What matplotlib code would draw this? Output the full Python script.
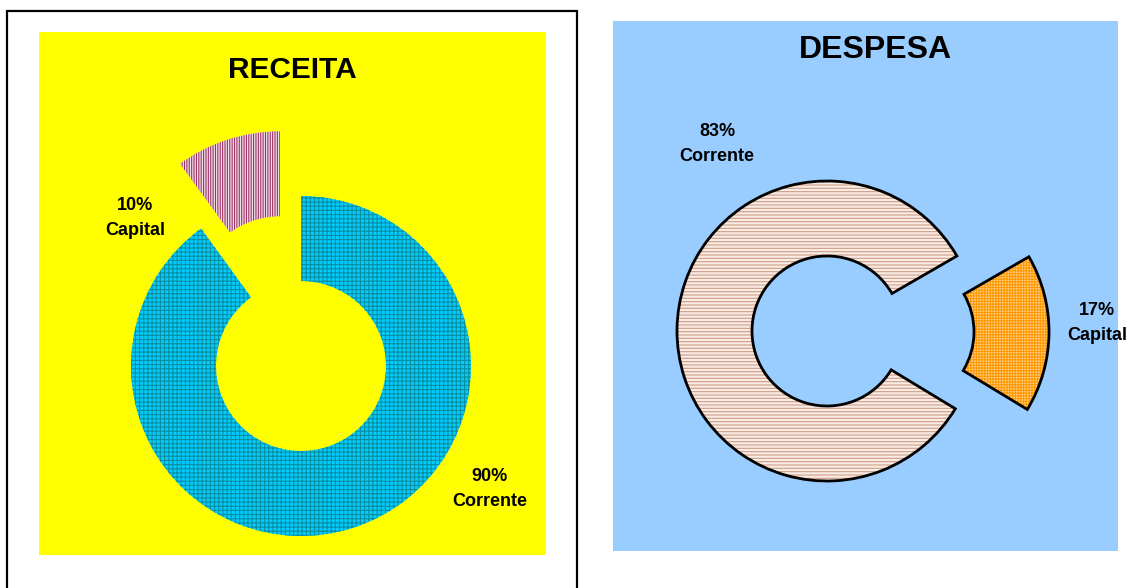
import matplotlib.pyplot as plt
from matplotlib.patches import Rectangle

# data
categorias = ['Corrente', 'Capital']
receita = [90, 10]
despesa = [83, 17]

plt.rcParams['font.family'] = ['Liberation Sans', 'DejaVu Sans']
plt.rcParams['hatch.linewidth'] = 0.8

W, H = 1130, 588
fig = plt.figure(figsize=(W / 100, H / 100), dpi=100)
fig.patch.set_facecolor('white')

# moldura do painel da esquerda
fig.add_artist(Rectangle((7 / W, -0.05), 570 / W, (H - 11) / H + 0.05,
                         transform=fig.transFigure, facecolor='white',
                         edgecolor='black', linewidth=1.6, zorder=0))


def painel(px0, py0, px1, py1, cor):
    # eixo em coordenadas de pixel (y para cima)
    ax = fig.add_axes([px0 / W, (H - py1) / H, (px1 - px0) / W, (py1 - py0) / H])
    ax.set_facecolor(cor)
    ax.set_xticks([])
    ax.set_yticks([])
    for s in ax.spines.values():
        s.set_visible(False)
    return ax


# ---------------- RECEITA ----------------
ax1 = painel(39, 32, 546, 555, '#ffff00')
c1, r1 = (301, H - 366), 170
w1 = ax1.pie(receita, explode=[0, 0.40 * r1], startangle=90, counterclock=False,
             radius=r1, center=c1, frame=True,
             colors=['#00ccff', '#f4e0ea'],
             wedgeprops=dict(width=r1 * 0.5, linewidth=0))[0]
w1[0].set_hatch('++++')
w1[0].set_edgecolor('#0a8fa0')
w1[1].set_hatch('|||||||')
w1[1].set_edgecolor('#993366')
ax1.set_xlim(39, 546)
ax1.set_ylim(H - 555, H - 32)
ax1.set_aspect('auto')
ax1.text(292, H - 70, 'RECEITA', ha='center', va='center', fontsize=21.5, fontweight='bold')
ax1.text(135, H - 218, f'{receita[1]}%\n{categorias[1]}', ha='center', va='center',
         fontsize=13, fontweight='bold', linespacing=1.55)
ax1.text(490, H - 489, f'{receita[0]}%\n{categorias[0]}', ha='center', va='center',
         fontsize=13, fontweight='bold', linespacing=1.55)

# ---------------- DESPESA ----------------
ax2 = painel(613, 21, 1118, 551, '#99ccff')
c2, r2 = (827, H - 331), 150
w2 = ax2.pie(despesa, explode=[0, 0.48 * r2], startangle=30, counterclock=True,
             radius=r2, center=c2, frame=True,
             colors=['#f9ece6', '#ffd090'],
             wedgeprops=dict(width=r2 * 0.5, linewidth=0))[0]
w2[0].set_hatch('-----')
w2[0].set_edgecolor('#cf9d85')
w2[1].set_hatch('++++++')
w2[1].set_edgecolor('#ff9900')
# contorno preto
ax2.pie(despesa, explode=[0, 0.48 * r2], startangle=30, counterclock=True,
        radius=r2, center=c2, frame=True,
        wedgeprops=dict(width=r2 * 0.5, fill=False, edgecolor='black', linewidth=2))
ax2.set_xlim(613, 1118)
ax2.set_ylim(H - 551, H - 21)
ax2.set_aspect('auto')
ax2.text(875, H - 50, 'DESPESA', ha='center', va='center', fontsize=23, fontweight='bold')
ax2.text(717, H - 144, f'{despesa[0]}%\n{categorias[0]}', ha='center', va='center',
         fontsize=13, fontweight='bold', linespacing=1.55)
ax2.text(1097, H - 323, f'{despesa[1]}%\n{categorias[1]}', ha='center', va='center',
         fontsize=13, fontweight='bold', linespacing=1.55)

fig.savefig('out.png', dpi=100)
